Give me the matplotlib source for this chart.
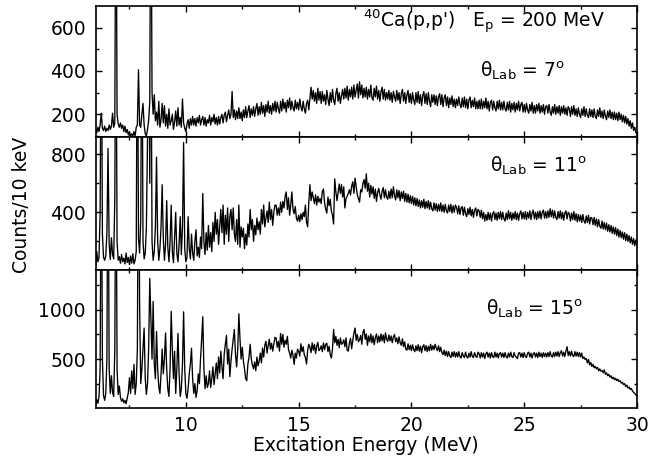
import numpy as np
import matplotlib
matplotlib.use('Agg')
import matplotlib.pyplot as plt
from matplotlib.ticker import MultipleLocator, FixedLocator

plt.rcParams['font.family'] = ['DejaVu Sans']
plt.rcParams['mathtext.fontset'] = 'dejavusans'

# excitation energy grid, 50 keV steps from 6 to 30 MeV
energy = np.linspace(6.0, 30.0, 481)

# counts, one row per MeV (6.00 ... 6.95, 7.00 ... )
counts_7deg = [
    130, 115, 140, 120, 150, 205, 135, 125, 145, 120, 135, 125, 150, 130, 145, 205, 140, 160, 1500, 200,
    155, 140, 160, 135, 150, 120, 145, 115, 130, 105, 120, 100, 110, 98, 120, 100, 140, 150, 405, 150,
    140, 200, 250, 150, 110, 100, 130, 170, 260, 1500, 300, 200, 290, 170, 210, 150, 260, 140, 175, 250,
    160, 240, 145, 200, 135, 225, 150, 170, 200, 130, 165, 215, 145, 230, 150, 185, 140, 270, 160, 135,
    120, 155, 175, 135, 180, 150, 190, 150, 180, 145, 185, 160, 195, 150, 175, 190, 150, 185, 145, 175,
    160, 195, 150, 185, 165, 200, 155, 185, 150, 190, 155, 185, 200, 160, 195, 210, 165, 195, 220, 180,
    200, 305, 185, 220, 175, 215, 180, 230, 180, 210, 170, 220, 185, 235, 185, 215, 240, 185, 225, 195,
    235, 190, 225, 250, 195, 235, 200, 255, 205, 240, 190, 245, 210, 260, 205, 240, 200, 250, 215, 260,
    210, 255, 225, 205, 260, 215, 270, 225, 255, 210, 265, 230, 275, 220, 260, 230, 215, 265, 225, 255,
    220, 270, 235, 215, 260, 225, 205, 250, 265, 220, 275, 325, 270, 310, 260, 300, 250, 320, 265, 305,
    250, 305, 260, 290, 245, 310, 270, 240, 300, 255, 315, 265, 245, 295, 320, 260, 300, 250, 285, 315,
    270, 320, 275, 330, 265, 315, 280, 325, 270, 335, 280, 310, 340, 275, 350, 290, 335, 275, 320, 280,
    325, 270, 315, 280, 335, 275, 265, 320, 280, 330, 270, 310, 260, 305, 325, 270, 315, 265, 300, 270,
    310, 265, 300, 255, 305, 280, 260, 310, 265, 300, 250, 295, 315, 260, 300, 250, 290, 310, 255, 295,
    250, 300, 265, 245, 300, 255, 305, 250, 290, 240, 285, 305, 250, 295, 245, 300, 260, 235, 290, 255,
    290, 245, 285, 240, 280, 295, 245, 290, 235, 275, 290, 240, 280, 230, 275, 245, 285, 235, 270, 230,
    270, 240, 280, 245, 230, 275, 235, 280, 230, 270, 225, 265, 280, 230, 265, 235, 275, 225, 260, 225,
    265, 225, 270, 225, 260, 230, 275, 225, 260, 215, 255, 265, 220, 260, 230, 215, 260, 225, 265, 220,
    255, 220, 260, 225, 215, 255, 220, 260, 210, 250, 220, 255, 210, 250, 220, 260, 215, 245, 255, 210,
    245, 210, 250, 220, 205, 245, 215, 255, 205, 240, 205, 245, 215, 250, 205, 240, 210, 245, 200, 235,
    240, 205, 245, 210, 195, 235, 205, 245, 200, 235, 205, 240, 195, 235, 205, 240, 200, 230, 195, 235,
    225, 190, 235, 200, 240, 195, 225, 190, 230, 200, 185, 225, 195, 235, 190, 225, 195, 185, 225, 190,
    220, 185, 225, 190, 180, 220, 190, 230, 185, 215, 180, 220, 190, 175, 215, 185, 220, 180, 210, 175,
    210, 175, 205, 170, 210, 175, 200, 165, 195, 160, 190, 155, 180, 145, 170, 135, 160, 125, 140, 115,
    110,
]

counts_11deg = [
    30, 130, 60, 90, 400, 2000, 250, 90, 70, 100, 260, 840, 180, 75, 225, 110, 80, 500, 2000, 200,
    70, 95, 50, 110, 60, 85, 45, 120, 55, 90, 40, 100, 50, 115, 45, 70, 130, 2000, 220, 120,
    350, 2000, 200, 80, 120, 300, 900, 2000, 600, 2000, 200, 70, 130, 300, 780, 200, 70, 150, 300, 590,
    220, 70, 180, 480, 160, 60, 200, 450, 130, 55, 220, 400, 120, 60, 180, 370, 110, 300, 880, 150,
    60, 90, 370, 150, 80, 250, 120, 70, 200, 280, 100, 160, 90, 230, 150, 530, 200, 110, 260, 140,
    310, 160, 260, 130, 330, 200, 400, 250, 350, 180, 300, 420, 260, 450, 180, 380, 250, 430, 200, 370,
    420, 280, 430, 250, 200, 350, 180, 450, 160, 300, 230, 290, 150, 250, 175, 320, 230, 420, 280, 350,
    200, 310, 245, 360, 280, 335, 250, 420, 320, 450, 300, 360, 410, 330, 470, 350, 420, 310, 400, 450,
    450, 380, 430, 380, 470, 400, 475, 430, 510, 540, 420, 500, 380, 450, 540, 420, 390, 440, 360, 340,
    380, 335, 390, 350, 400, 370, 450, 330, 300, 470, 590, 480, 540, 500, 460, 520, 450, 510, 470, 495,
    460, 545, 560, 465, 420, 395, 505, 445, 490, 410, 380, 320, 630, 540, 480, 535, 595, 530, 590, 505,
    575, 430, 495, 510, 530, 555, 520, 580, 610, 530, 635, 575, 520, 495, 470, 555, 540, 600, 625, 565,
    665, 545, 600, 505, 585, 525, 575, 495, 560, 475, 535, 565, 520, 490, 545, 570, 500, 555, 505, 490,
    545, 495, 560, 500, 575, 515, 485, 555, 500, 550, 480, 540, 495, 545, 475, 530, 470, 525, 465, 515,
    460, 510, 450, 500, 445, 495, 440, 485, 430, 480, 435, 490, 425, 475, 430, 480, 420, 470, 425, 410,
    465, 415, 460, 405, 455, 410, 465, 405, 450, 400, 455, 410, 395, 450, 405, 455, 395, 445, 400, 450,
    435, 390, 445, 385, 430, 440, 380, 435, 390, 370, 425, 385, 435, 375, 420, 365, 415, 430, 375, 420,
    410, 365, 415, 355, 400, 340, 385, 345, 400, 350, 395, 340, 390, 405, 350, 395, 345, 400, 355, 405,
    350, 400, 355, 340, 395, 350, 410, 355, 400, 345, 395, 355, 405, 350, 395, 345, 390, 410, 355, 400,
    355, 405, 350, 400, 360, 410, 350, 395, 415, 355, 400, 350, 405, 360, 410, 355, 400, 415, 360, 405,
    360, 410, 365, 425, 370, 415, 360, 410, 365, 350, 405, 360, 410, 355, 400, 345, 395, 410, 355, 400,
    390, 340, 395, 350, 405, 345, 390, 335, 385, 340, 380, 330, 385, 340, 325, 375, 330, 380, 320, 365,
    360, 315, 365, 310, 355, 300, 350, 305, 290, 340, 285, 330, 280, 325, 270, 315, 265, 310, 255, 300,
    250, 295, 240, 285, 230, 275, 225, 265, 215, 260, 205, 250, 200, 240, 190, 230, 180, 220, 170, 210,
    175,
]

counts_15deg = [
    40, 90, 50, 120, 400, 3000, 500, 130, 80, 150, 500, 3000, 400, 150, 330, 160, 120, 600, 3000, 400,
    140, 225, 110, 70, 95, 55, 80, 45, 100, 160, 310, 150, 380, 200, 445, 140, 250, 600, 3000, 1050,
    250, 400, 600, 815, 300, 140, 250, 600, 1320, 900, 500, 1085, 450, 300, 780, 400, 220, 150, 350, 600,
    350, 500, 765, 400, 200, 120, 400, 985, 600, 300, 580, 150, 400, 760, 350, 120, 200, 450, 980, 400,
    150, 100, 200, 350, 450, 610, 300, 150, 250, 110, 180, 350, 250, 500, 700, 930, 400, 200, 330, 210,
    250, 380, 210, 300, 420, 240, 350, 460, 300, 520, 360, 580, 420, 300, 550, 650, 740, 450, 600, 320,
    480, 600, 700, 800, 550, 420, 600, 960, 700, 500, 620, 480, 400, 300, 280, 450, 520, 650, 500, 440,
    400, 470, 380, 520, 430, 480, 560, 460, 610, 520, 640, 680, 560, 640, 700, 600, 660, 580, 650, 720,
    715, 620, 680, 580, 760, 650, 750, 620, 690, 650, 730, 600, 560, 510, 590, 540, 445, 560, 510, 600,
    580, 530, 655, 575, 625, 545, 515, 450, 590, 650, 620, 565, 665, 590, 650, 555, 630, 670, 585, 600,
    635, 575, 665, 595, 650, 660, 575, 630, 545, 510, 605, 800, 665, 730, 640, 700, 615, 715, 650, 660,
    695, 625, 715, 590, 580, 665, 710, 605, 690, 765, 815, 690, 750, 675, 695, 740, 650, 770, 800, 700,
    755, 640, 735, 675, 755, 665, 735, 645, 715, 755, 665, 735, 675, 755, 685, 745, 665, 765, 700, 680,
    745, 685, 735, 665, 725, 750, 675, 715, 655, 725, 665, 640, 705, 625, 675, 600, 590, 655, 595, 640,
    585, 645, 595, 575, 635, 585, 645, 580, 630, 565, 625, 645, 585, 635, 575, 630, 585, 650, 590, 635,
    595, 650, 610, 585, 635, 575, 620, 565, 545, 590, 535, 580, 525, 575, 530, 515, 570, 525, 575, 520,
    565, 520, 575, 525, 510, 565, 530, 515, 570, 525, 510, 560, 520, 575, 525, 515, 565, 530, 515, 570,
    555, 510, 565, 520, 560, 505, 555, 570, 520, 560, 510, 565, 525, 515, 570, 520, 560, 510, 555, 565,
    520, 560, 515, 565, 525, 510, 560, 520, 570, 525, 515, 565, 530, 520, 505, 560, 565, 520, 560, 515,
    565, 525, 515, 560, 570, 520, 560, 510, 555, 565, 520, 560, 515, 570, 525, 560, 515, 565, 525, 560,
    520, 565, 525, 575, 530, 520, 565, 525, 570, 530, 575, 525, 565, 585, 530, 570, 525, 580, 625, 535,
    575, 530, 580, 535, 525, 575, 530, 570, 525, 565, 520, 560, 505, 520, 495, 505, 460, 495, 440, 465,
    425, 445, 410, 425, 400, 415, 380, 400, 375, 385, 360, 390, 345, 360, 330, 345, 315, 330, 300, 315,
    290, 305, 280, 295, 270, 280, 255, 265, 240, 250, 220, 235, 205, 215, 190, 200, 175, 160, 150, 135,
    120,
]

angles = ['7', '11', '15']
ylims = [(95, 700), (0, 918), (5, 1400)]
major_y = [[200, 400, 600], [400, 800], [500, 1000]]
minor_y = [[100, 300, 500], [200, 600], [250, 750, 1250]]

fs = 13.5
fig = plt.figure(figsize=(6.51, 4.65), dpi=100)

# axes boxes in figure fractions (top, middle, bottom)
left, width = 0.1469, 0.8316
boxes = [(0.7054, 0.2817), (0.4183, 0.2871), (0.1232, 0.2951)]
# where the angle labels sit (axes fractions, right aligned, baseline)
label_pos = [(0.867, 0.46), (0.908, 0.74), (0.900, 0.676)]

spectra = [counts_7deg, counts_11deg, counts_15deg]
axes = []
for i, (counts, box) in enumerate(zip(spectra, boxes)):
    ax = fig.add_axes([left, box[0], width, box[1]])
    ax.plot(energy, counts, color='black', lw=0.95)
    ax.set_xlim(6, 30)
    ax.set_ylim(*ylims[i])
    ax.xaxis.set_major_locator(MultipleLocator(5))
    ax.xaxis.set_minor_locator(MultipleLocator(2.5))
    ax.yaxis.set_major_locator(FixedLocator(major_y[i]))
    ax.yaxis.set_minor_locator(FixedLocator(minor_y[i]))
    ax.tick_params(which='both', direction='in', top=True, right=True,
                   labelsize=fs, width=1.0)
    ax.tick_params(axis='x', pad=6)
    ax.tick_params(axis='y', pad=7)
    ax.tick_params(which='major', length=4.5)
    ax.tick_params(which='minor', length=2.5)
    for sp in ax.spines.values():
        sp.set_linewidth(1.2)
    if i < 2:
        ax.tick_params(labelbottom=False)
    lx, ly = label_pos[i]
    ax.text(lx, ly, r'θ$_{\rm Lab}$ = ' + angles[i] + r'$^{\rm o}$',
            transform=ax.transAxes, ha='right', va='baseline', fontsize=fs)
    axes.append(ax)

axes[0].text(0.941, 0.836, r"$^{40}$Ca(p,p')   E$_{\rm p}$ = 200 MeV",
             transform=axes[0].transAxes, ha='right', va='baseline', fontsize=fs)

fig.text(0.033, 0.559, 'Counts/10 keV', rotation=90, ha='center', va='center', fontsize=fs)
fig.text(0.562, 0.041, 'Excitation Energy (MeV)', ha='center', va='center', fontsize=fs)

fig.savefig('out.png', dpi=100)
